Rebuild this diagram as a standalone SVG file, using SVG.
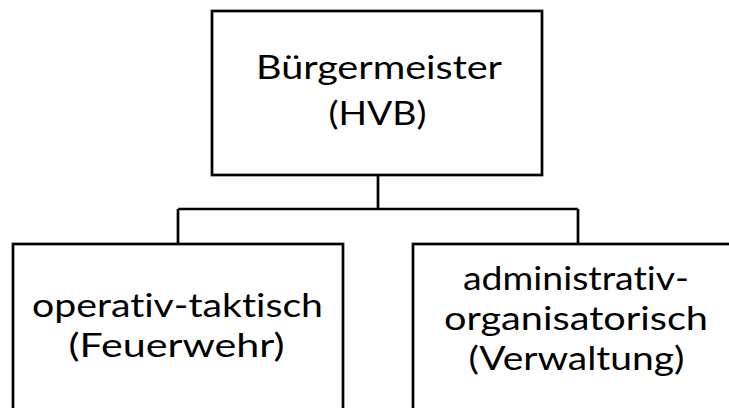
<svg xmlns="http://www.w3.org/2000/svg" width="729" height="408" viewBox="0 0 729 408">
<style>
.box{fill:#ffffff;stroke:#000000;stroke-width:2.7}
.conn{fill:none;stroke:#000000;stroke-width:2.7}
.lbl{font-family:Lato,"Open Sans",sans-serif;font-size:33px;fill:#000000;text-anchor:middle;font-variant-ligatures:none}
</style>
<rect width="729" height="408" fill="#ffffff"/>
<g id="connectors">
<path class="conn" d="M378,175 V209 M178,209 H578 M178,209 V244 M578,209 V244"/>
</g>
<g id="node-buergermeister">
<rect class="box" x="212" y="11" width="330" height="164"/>
<text class="lbl" x="379" y="79" textLength="246" lengthAdjust="spacingAndGlyphs">Bürgermeister</text>
<text class="lbl" x="377.5" y="125" textLength="98" lengthAdjust="spacingAndGlyphs">(HVB)</text>
</g>
<g id="node-operativ">
<rect class="box" x="13" y="244" width="330" height="180"/>
<text class="lbl" x="177.5" y="317" textLength="291" lengthAdjust="spacingAndGlyphs">operativ-taktisch</text>
<text class="lbl" x="176.5" y="357" textLength="216" lengthAdjust="spacingAndGlyphs">(Feuerwehr)</text>
</g>
<g id="node-administrativ">
<rect class="box" x="413" y="244" width="340" height="180"/>
<text class="lbl" x="576" y="290" textLength="226" lengthAdjust="spacingAndGlyphs">administrativ-</text>
<text class="lbl" x="576" y="330" textLength="264" lengthAdjust="spacingAndGlyphs">organisatorisch</text>
<text class="lbl" x="576.5" y="370" textLength="216" lengthAdjust="spacingAndGlyphs">(Verwaltung)</text>
</g>
</svg>
